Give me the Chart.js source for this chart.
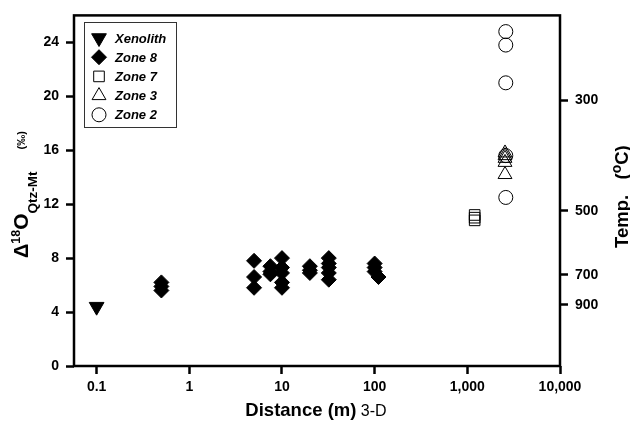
<!DOCTYPE html>
<html>
<head>
<meta charset="utf-8">
<script src="https://cdn.jsdelivr.net/npm/chart.js@4/dist/chart.umd.min.js"></script>
<style>
  html, body { margin: 0; padding: 0; background: #fff; }
  #chart { display: block; }
</style>
</head>
<body>
<canvas id="chart" width="630" height="425"></canvas>
<script>
// ── Data ────────────────────────────────────────────────────────────────
const xTicks = [0.1, 1, 10, 100, 1000, 10000];
const yTicks = [0, 4, 8, 12, 16, 20, 24];
const tempLabels = ['300', '500', '700', '900'];
const tempAt     = [19.7, 11.5, 6.75, 4.55];   // Δ value matching each temperature

const xenolithX = [0.1];
const xenolithY = [4.4];

const zone8X = [0.5, 0.5, 0.5, 5, 5, 5, 7.5, 7.5, 7.5, 10, 10, 10, 10, 10,
                20, 20, 20, 32, 32, 32, 32, 32, 100, 100, 100, 110];
const zone8Y = [6.2, 5.9, 5.6, 7.8, 6.6, 5.8, 7.4, 7.0, 6.8, 8.0, 7.3, 6.9, 6.2, 5.8,
                7.4, 7.1, 6.9, 8.0, 7.6, 7.3, 6.9, 6.4, 7.6, 7.3, 7.0, 6.6];

const zone7X = [1200, 1200, 1200];
const zone7Y = [10.8, 11.0, 11.2];

const zone3X = [2550, 2550, 2550, 2550, 2550];
const zone3Y = [15.8, 15.6, 15.4, 15.1, 14.2];

const zone2X = [2600, 2600, 2600, 2600, 2600];
const zone2Y = [24.8, 23.8, 21.0, 15.6, 12.5];

const FONT = '"Liberation Sans", Arial, sans-serif';

function pts(xs, ys) {
    return xs.map((x, i) => ({ x: x, y: ys[i] }));
}

// ── Series styles ───────────────────────────────────────────────────────
const series = [
    { label: 'Xenolith', data: pts(xenolithX, xenolithY), pointStyle: 'triangle', rotation: 180,
      radius: 8.5, fill: '#000' },
    { label: 'Zone 8', data: pts(zone8X, zone8Y), pointStyle: 'rectRot', rotation: 0,
      radius: 7.5, fill: '#000' },
    { label: 'Zone 7', data: pts(zone7X, zone7Y), pointStyle: 'rect', rotation: 0,
      radius: 7.5, fill: 'rgba(0,0,0,0)' },
    { label: 'Zone 3', data: pts(zone3X, zone3Y), pointStyle: 'triangle', rotation: 0,
      radius: 8, fill: 'rgba(0,0,0,0)' },
    { label: 'Zone 2', data: pts(zone2X, zone2Y), pointStyle: 'circle', rotation: 0,
      radius: 7, fill: 'rgba(0,0,0,0)' }
];

// ── Custom drawing: frame, axis titles, inset legend ────────────────────
const decorations = {
    id: 'decorations',
    afterDraw(chart) {
        const ctx = chart.ctx;
        const a = chart.chartArea;
        ctx.save();

        // frame
        ctx.strokeStyle = '#000';
        ctx.lineWidth = 2.5;
        ctx.strokeRect(a.left, a.top, a.right - a.left, a.bottom - a.top);

        ctx.fillStyle = '#000';
        ctx.textBaseline = 'alphabetic';
        ctx.textAlign = 'left';

        // x title
        const t1 = 'Distance (m)', t2 = ' 3-D';
        ctx.font = 'bold 18.5px ' + FONT;
        const w1 = ctx.measureText(t1).width;
        ctx.font = '16px ' + FONT;
        const w2 = ctx.measureText(t2).width;
        const xs = 316 - (w1 + w2) / 2;
        ctx.font = 'bold 18.5px ' + FONT;
        ctx.fillText(t1, xs, 416);
        ctx.font = '16px ' + FONT;
        ctx.fillText(t2, xs + w1, 416);

        // left y title (rotated)
        let p = 0;
        const part = (txt, font, dy) => {
            ctx.font = font;
            ctx.fillText(txt, p, dy);
            p += ctx.measureText(txt).width;
        };
        ctx.save();
        ctx.translate(28, 258);
        ctx.rotate(-Math.PI / 2);
        part('\u0394', 'bold 20px ' + FONT, 0);
        part('18', 'bold 12.5px ' + FONT, -8);
        part('O', 'bold 21px ' + FONT, 0);
        part('Qtz-Mt', 'bold 13.5px ' + FONT, 9);
        p += 22;
        part('(\u2030)', 'bold 11px ' + FONT, -3);
        ctx.restore();

        // right y title (rotated)
        ctx.save();
        ctx.translate(628, 248);
        ctx.rotate(-Math.PI / 2);
        p = 0;
        part('Temp.   (', 'bold 18.5px ' + FONT, 0);
        part('o', 'bold 14px ' + FONT, -7);
        part('C)', 'bold 18.5px ' + FONT, 0);
        ctx.restore();

        // inset legend
        ctx.lineWidth = 1;
        ctx.strokeStyle = '#333';
        ctx.strokeRect(84.5, 22.5, 92, 105);
        ctx.textBaseline = 'middle';
        ctx.font = 'italic bold 13px ' + FONT;
        series.forEach(function (s, i) {
            const y = 38 + i * 19.2;
            ctx.fillStyle = s.fill;
            ctx.strokeStyle = '#000';
            ctx.lineWidth = 1;
            Chart.helpers.drawPoint(ctx, {
                pointStyle: s.pointStyle, rotation: s.rotation,
                radius: s.radius, borderWidth: 1
            }, 99, y);
            ctx.fillStyle = '#000';
            ctx.fillText(s.label, 115, y + 1);
        });

        ctx.restore();
    }
};

new Chart(document.getElementById('chart'), {
    type: 'scatter',
    data: {
        datasets: series.map(s => ({
            label: s.label,
            data: s.data,
            pointStyle: s.pointStyle,
            rotation: s.rotation,
            pointRadius: s.radius,
            pointHoverRadius: s.radius,
            backgroundColor: s.fill,
            borderColor: '#000',
            borderWidth: 1
        }))
    },
    options: {
        responsive: false,
        devicePixelRatio: 1,
        animation: false,
        layout: { padding: { top: 12, left: 0, right: 0, bottom: 0 } },
        plugins: {
            legend: { display: false },
            tooltip: { enabled: false }
        },
        scales: {
            x: {
                type: 'logarithmic',
                min: 0.057,
                max: 10000,
                afterBuildTicks: s => { s.ticks = xTicks.map(v => ({ value: v })); },
                afterFit: s => { s.height = 59; },
                border: { display: false },
                grid: { drawOnChartArea: false, tickLength: 8, tickWidth: 2.5, tickColor: '#000' },
                ticks: {
                    color: '#000',
                    padding: 5,
                    maxRotation: 0,
                    font: { family: FONT, size: 14, weight: 'bold' },
                    callback: v => Number(v).toLocaleString('en-US')
                }
            },
            y: {
                min: 0,
                max: 26,
                afterBuildTicks: s => { s.ticks = yTicks.map(v => ({ value: v })); },
                afterFit: s => { s.width = 74; },
                border: { display: false },
                grid: { drawOnChartArea: false, tickLength: 8, tickWidth: 2.5, tickColor: '#000' },
                ticks: {
                    color: '#000',
                    padding: 7,
                    font: { family: FONT, size: 14, weight: 'bold' }
                }
            },
            temp: {
                position: 'right',
                min: 0,
                max: 26,
                afterBuildTicks: s => { s.ticks = tempAt.map(v => ({ value: v })); },
                afterFit: s => { s.width = 70; },
                border: { display: false },
                grid: { drawOnChartArea: false, tickLength: 8, tickWidth: 2.5, tickColor: '#000' },
                ticks: {
                    color: '#000',
                    padding: 7,
                    font: { family: FONT, size: 14, weight: 'bold' },
                    callback: (v, i) => tempLabels[i]
                }
            }
        }
    },
    plugins: [decorations]
});
</script>
</body>
</html>
